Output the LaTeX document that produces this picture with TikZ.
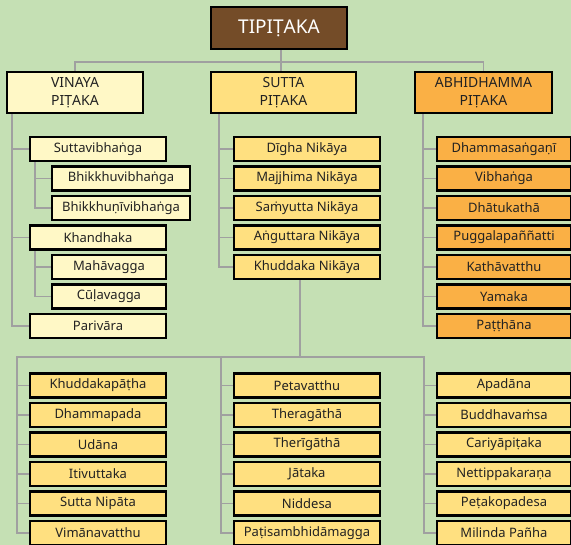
\documentclass[tikz,border=0pt]{standalone}
\usepackage{fontspec}
\setmainfont{Noto Sans}
\usetikzlibrary{backgrounds}
\definecolor{bggreen}{HTML}{C5E0B4}
\definecolor{rootbrown}{HTML}{744C28}
\definecolor{vinfill}{HTML}{FFF8C6}
\definecolor{sutfill}{HTML}{FFE080}
\definecolor{abhfill}{HTML}{FAB045}
\definecolor{linegray}{HTML}{A0A0A0}
\definecolor{textdark}{HTML}{222222}
\begin{document}
\begin{tikzpicture}[x=1pt, y=-1pt,
    box/.style={draw, rectangle, line width=2.3pt, minimum height=24pt, inner sep=0pt,
        text=textdark, font=\fontsize{13}{15}\selectfont},
    pitaka/.style={minimum height=41pt, align=center, font=\fontsize{14}{18}\selectfont},
    vin/.style={box, fill=vinfill},
    sut/.style={box, fill=sutfill},
    abh/.style={box, fill=abhfill},
    link/.style={draw=linegray, line width=1.5pt}]
    \useasboundingbox (0,0) rectangle (571,545);
    \clip (0,0) rectangle (571,545);

    % Three baskets
    \node[box, fill=rootbrown, text=white, minimum width=136pt, minimum height=42pt,
        font=\fontsize{19}{22}\selectfont] (tipitaka) at (279,28) {TIPIṬAKA};
    \node[vin, pitaka, minimum width=136pt] (vinaya) at (75,92.5) {VINAYA\\PIṬAKA};
    \node[sut, pitaka, minimum width=145pt] (sutta) at (283.5,92.5) {SUTTA\\PIṬAKA};
    \node[abh, pitaka, minimum width=137pt] (abhi) at (483.5,92.5) {ABHIDHAMMA\\PIṬAKA};

    % Vinaya
    \node[vin, minimum width=136pt] (suttavibhanga) at (98,149) {Suttavibhaṅga};
    \node[vin, minimum width=138pt] (bhikkhu) at (121,178.5) {Bhikkhuvibhaṅga};
    \node[vin, minimum width=138pt] (bhikkhuni) at (121,208) {Bhikkhuṇīvibhaṅga};
    \node[vin, minimum width=136pt] (khandhaka) at (98,237.5) {Khandhaka};
    \node[vin, minimum width=114pt] (mahavagga) at (109,267) {Mahāvagga};
    \node[vin, minimum width=114pt] (culavagga) at (109,296.5) {Cūḷavagga};
    \node[vin, minimum width=136pt] (parivara) at (98,326) {Parivāra};

    % Sutta
    \foreach \name/\txt [count=\i from 0] in {digha/Dīgha Nikāya, majjhima/Majjhima Nikāya,
            samyutta/Saṁyutta Nikāya, anguttara/Aṅguttara Nikāya, khuddaka/Khuddaka Nikāya} {
        \node[sut, minimum width=146pt] (\name) at (307,149+29.5*\i) {\txt};
    }

    % Abhidhamma
    \foreach \name/\txt [count=\i from 0] in {dhammasangani/Dhammasaṅgaṇī, vibhanga/Vibhaṅga,
            dhatukatha/Dhātukathā, puggala/Puggalapaññatti, kathavatthu/Kathāvatthu,
            yamaka/Yamaka, patthana/Paṭṭhāna} {
        \node[abh, minimum width=134pt] (\name) at (504,149+29.5*\i) {\txt};
    }

    % Khuddaka Nikaya books
    \foreach \txt [count=\i] in {Khuddakapāṭha, Dhammapada, Udāna, Itivuttaka, Sutta Nipāta, Vimānavatthu} {
        \node[sut, minimum width=136pt] (ka\i) at (98,356+29.5*\i) {\txt};
    }
    \foreach \txt [count=\i] in {Petavatthu, Theragāthā, Therīgāthā, Jātaka, Niddesa, Paṭisambhidāmagga} {
        \node[sut, minimum width=146pt] (kb\i) at (307,356+29.5*\i) {\txt};
    }
    \foreach \txt [count=\i] in {Apadāna, Buddhavaṁsa, Cariyāpiṭaka, Nettippakaraṇa, Peṭakopadesa, Milinda Pañha} {
        \node[sut, minimum width=134pt] (kc\i) at (504,356+29.5*\i) {\txt};
    }

    % Connectors
    \begin{pgfonlayer}{background}
    \fill[bggreen] (0,0) rectangle (571,545);
    \draw[link] (tipitaka.south) ++(2,0) -- ++(0,12) coordinate (hub);
    \draw[link] (hub) -| (vinaya.north);
    \draw[link] (hub) -| (abhi.north);
    \draw[link] (hub) -- (hub |- sutta.north);

    \foreach \dest in {suttavibhanga,khandhaka,parivara}
        \draw[link] ([xshift=6pt]vinaya.south west) |- (\dest.west);
    \foreach \dest in {bhikkhu,bhikkhuni}
        \draw[link] ([xshift=6pt]suttavibhanga.south west) |- (\dest.west);
    \foreach \dest in {mahavagga,culavagga}
        \draw[link] ([xshift=6pt]khandhaka.south west) |- (\dest.west);
    \foreach \dest in {digha,majjhima,samyutta,anguttara,khuddaka}
        \draw[link] ([xshift=9pt]sutta.south west) |- (\dest.west);
    \foreach \dest in {dhammasangani,vibhanga,dhatukatha,puggala,kathavatthu,yamaka,patthana}
        \draw[link] ([xshift=9pt]abhi.south west) |- (\dest.west);

    \draw[link] (khuddaka.south) ++(-7,0) -- ++(0,77) coordinate (kh);
    \foreach \col in {ka,kb,kc} {
        \foreach \i in {1,...,6} {
            \draw[link] (kh) -| ([xshift=-12pt]\col\i.west) -- (\col\i.west);
        }
    }
    \end{pgfonlayer}
\end{tikzpicture}
\end{document}
